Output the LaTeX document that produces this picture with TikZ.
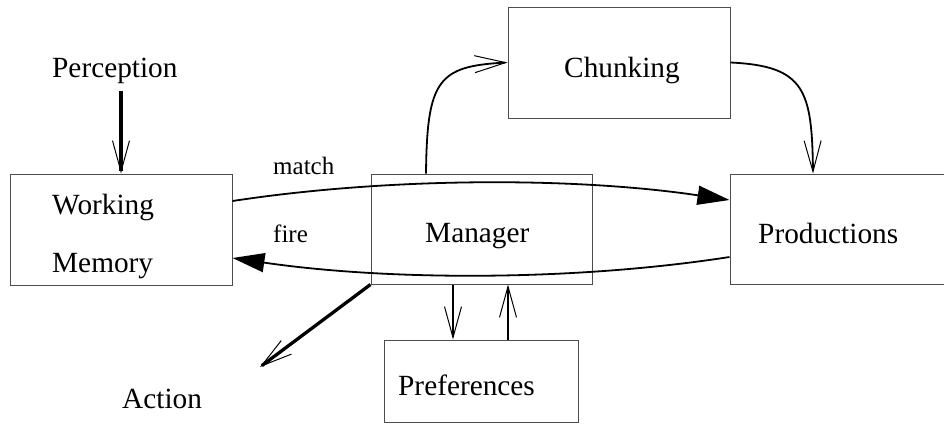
\documentclass[tikz,border=0pt]{standalone}
\usepackage{fontspec}
\setmainfont{Liberation Serif}
\usetikzlibrary{arrows.meta}

\tikzset{
  block/.style={draw=black!70, line width=1pt, rectangle, inner sep=0pt},
  lbl/.style={anchor=base west, inner sep=0pt, font=\fontsize{29.3}{34}\selectfont},
  smalllbl/.style={anchor=base west, inner sep=0pt, font=\fontsize{25}{30}\selectfont},
  vtip/.style={-{Straight Barb[length=31pt,width=17pt,line width=1pt]}},
  ftip/.style={-{Triangle[length=32pt,width=19pt]}},
  flow/.style={line width=1.8pt},
  heavy/.style={line width=3.3pt},
  light/.style={line width=1.4pt}
}

\begin{document}
\begin{tikzpicture}[x=1pt,y=-1pt]
  \useasboundingbox (0,0) rectangle (944,424);
  \clip (0,0) rectangle (944,424);

  % boxes
  \node[block, minimum width=222pt, minimum height=111pt] (wm)    at (121,229.5) {};
  \node[block, minimum width=221pt, minimum height=110pt] (mgr)   at (481.5,229) {};
  \node[block, minimum width=220pt, minimum height=110pt] (prod)  at (840,229)   {};
  \node[block, minimum width=222pt, minimum height=111pt] (chunk) at (619,62.5)  {};
  \node[block, minimum width=194pt, minimum height=82pt]  (pref)  at (481,381)   {};

  % texts
  \node[lbl] (perc)   at (52,77)   {Perception};
  \node[lbl] (wmA)    at (52,214)  {Working};
  \node[lbl] (wmB)    at (52,272)  {Memory};
  \node[lbl] (mgrT)   at (425,242) {Manager};
  \node[lbl] (chT)    at (564,77)  {Chunking};
  \node[lbl] (prT)    at (758,243) {Productions};
  \node[lbl] (pfT)    at (398,395) {Preferences};
  \node[lbl] (actT)   at (122,408) {Action};
  \node[smalllbl] (matchT) at (273,174) {match};
  \node[smalllbl] (fireT)  at (273,242) {fire};

  % helper coordinates for free ends and vertical runs
  \coordinate (ptop) at (121,91);
  \coordinate (act)  at (260,367);
  \coordinate (xd)   at (453,0);
  \coordinate (xu)   at (508,0);
  \coordinate (xc)   at (426,0);
  \coordinate (xp)   at (813,0);

  % perception and action
  \draw[heavy, vtip] (ptop) -- (wm.north);
  \draw[heavy, vtip] (mgr.south west) -- (act);

  % manager <-> preferences
  \draw[light, vtip] (xd |- mgr.south) -- (xd |- pref.north);
  \draw[light, vtip] (xu |- pref.north) -- (xu |- mgr.south);

  % chunking loop
  \draw[flow, vtip] (xc |- mgr.north) .. controls (427,80) and (438,66) .. (chunk.west);
  \draw[flow, vtip] (chunk.east) .. controls (805,66) and (812,90) .. (xp |- prod.north);

  % match / fire
  \draw[flow, ftip] ([yshift=28.5pt]wm.east) .. controls (390,177) and (575,177) .. ([yshift=29pt]prod.west);
  \draw[flow, ftip] ([yshift=-28pt]prod.west) .. controls (575,281) and (390,281) .. ([yshift=-28.5pt]wm.east);
\end{tikzpicture}
\end{document}
